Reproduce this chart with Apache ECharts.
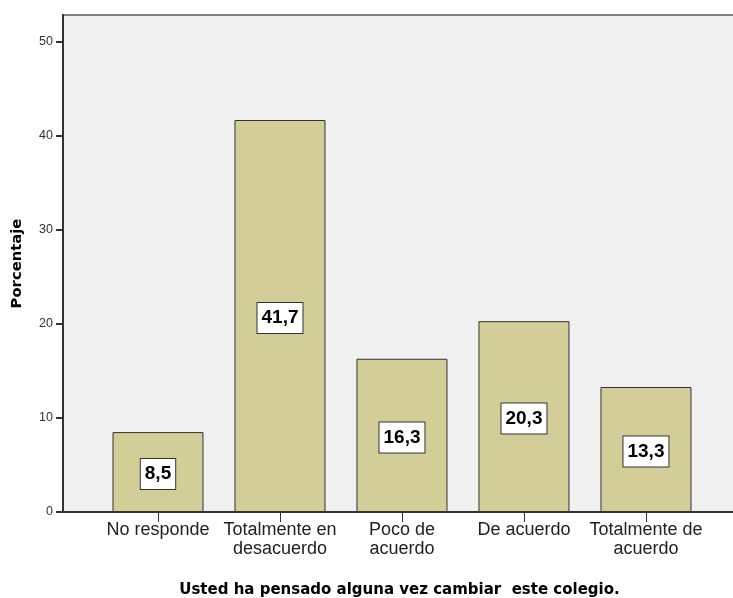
<!DOCTYPE html>
<html><head><meta charset="utf-8">
<script src="https://cdn.jsdelivr.net/npm/echarts@6/dist/echarts.min.js"></script>
<style>html,body{margin:0;padding:0;background:#fff}#c{width:733px;height:598px}</style>
</head><body><div id="c"></div>
<script>
const categories = ["No responde", "Totalmente en\ndesacuerdo", "Poco de\nacuerdo", "De acuerdo", "Totalmente de\nacuerdo"];
const values = [8.5, 41.7, 16.3, 20.3, 13.3];
const yTicks = [0, 10, 20, 30, 40, 50];
const xTitle = "Usted ha pensado alguna vez cambiar  este colegio.";
const yTitle = "Porcentaje";

const positions = categories.map((c, i) => i + 1);
const chart = echarts.init(document.getElementById('c'), null, {renderer: 'canvas'});
chart.setOption({
  animation: false,
  backgroundColor: '#fff',
  grid: {left: 63, right: -3, top: 15, bottom: 86, outerBoundsMode: 'none', containLabel: false,
         show: true, backgroundColor: '#f0f0f0', borderColor: '#808080', borderWidth: 2},
  xAxis: {
    type: 'value', min: 0.2213, max: 5.738,
    splitLine: {show: false},
    axisLine: {show: true, onZero: false, lineStyle: {color: '#333', width: 2}},
    axisTick: {show: true, customValues: positions, length: 10, lineStyle: {color: '#333', width: 1}},
    axisLabel: {customValues: positions, formatter: v => categories[Math.round(v) - 1] || '', fontFamily: 'Liberation Sans', fontSize: 18, color: '#222', lineHeight: 19, margin: 9},
    name: xTitle, nameLocation: 'middle', nameGap: 71,
    nameTextStyle: {fontFamily: 'DejaVu Sans', fontWeight: 'bold', fontSize: 15, color: '#000'}
  },
  yAxis: {
    type: 'value', min: 0, max: 52.87, interval: 10,
    splitLine: {show: false},
    axisLine: {show: true, lineStyle: {color: '#333', width: 2}},
    axisTick: {show: true, customValues: yTicks, length: 7, lineStyle: {color: '#333', width: 2}},
    axisLabel: {customValues: yTicks, fontFamily: 'Liberation Sans', fontSize: 12.5, color: '#333', margin: 10},
    name: yTitle, nameLocation: 'middle', nameGap: 38, nameRotate: 90,
    nameTextStyle: {fontFamily: 'DejaVu Sans', fontWeight: 'bold', fontSize: 14.8, color: '#000'}
  },
  series: [{
    type: 'bar',
    data: positions.map((p, i) => [p, values[i]]),
    barWidth: 91,
    itemStyle: {color: '#d3ce98', borderColor: '#333', borderWidth: 1},
    label: {
      show: true, position: 'inside', offset: [0, 2],
      formatter: p => String(p.value[1]).replace('.', ','),
      fontFamily: 'Liberation Sans', fontWeight: 'bold', fontSize: 19, color: '#000',
      backgroundColor: '#fff', borderColor: '#333', borderWidth: 1, padding: [5, 4, 5, 4], lineHeight: 20
    }
  }]
});
</script></body></html>
